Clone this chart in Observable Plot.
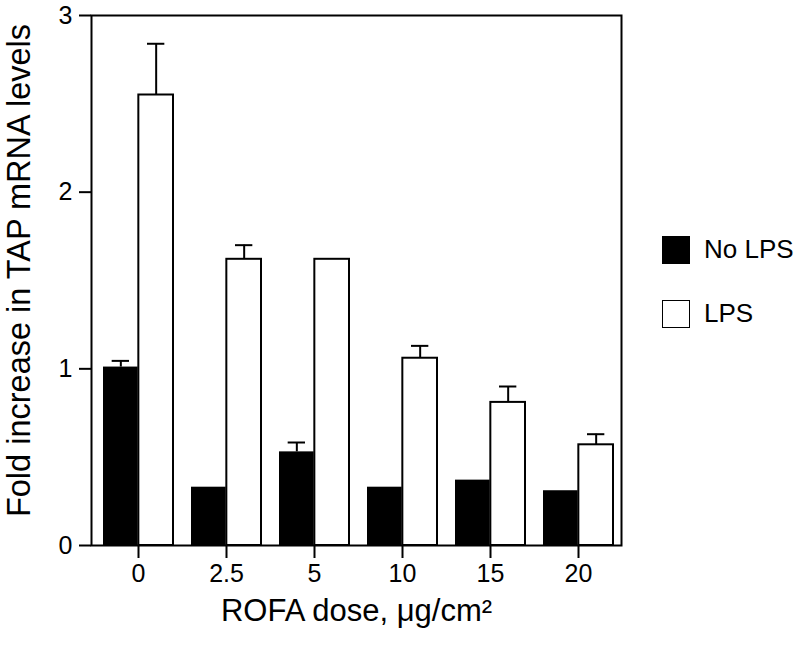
<!DOCTYPE html>
<html>
<head>
<meta charset="utf-8">
<script src="https://cdn.jsdelivr.net/npm/d3@7"></script>
<script src="https://cdn.jsdelivr.net/npm/@observablehq/plot@0.6"></script>
<style>
  html, body { margin: 0; padding: 0; background: #fff; }
  #wrap { position: relative; width: 800px; height: 647px; font-family: "Liberation Sans", Arial, Helvetica, sans-serif; color: #000; }
  .leg { position: absolute; left: 662px; display: flex; align-items: center; font-size: 26px; }
  .sw { width: 26px; height: 26px; border: 1.5px solid #000; margin-right: 14px; box-sizing: content-box; }
</style>
</head>
<body>
<div id="wrap"></div>
<script>
// ---- data ----
const doses = ["0", "2.5", "5", "10", "15", "20"];
const noLps = [1.01, 0.33, 0.53, 0.33, 0.37, 0.31];
const noLpsErr = [1.045, null, 0.583, null, null, null];
const lps = [2.55, 1.62, 1.62, 1.06, 0.81, 0.57];
const lpsErr = [2.84, 1.70, null, 1.13, 0.90, 0.63];
const yTicks = [0, 1, 2, 3];
const seriesNames = ["No LPS", "LPS"];
const yLabel = "Fold increase in TAP mRNA levels";
const xLabel = "ROFA dose, \u03bcg/cm\u00b2";

// ---- layout ----
const W = 800, H = 647, mL = 91, mR = 179, mT = 15, mB = 102;
const padIn = 0.2, padOut = 0.1;
const step = (W - mL - mR) / (doses.length - padIn + 2 * padOut);
const bw = step * (1 - padIn);
const half = bw / 2;
const capHalf = 9;

const noRows = doses.map((d, i) => ({dose: d, value: noLps[i], err: noLpsErr[i]}));
const lpsRows = doses.map((d, i) => ({dose: d, value: lps[i], err: lpsErr[i]}));
const noErrRows = noRows.filter(r => r.err != null);
const lpsErrRows = lpsRows.filter(r => r.err != null);

const chart = Plot.plot({
  width: W, height: H,
  marginLeft: mL, marginRight: mR, marginTop: mT, marginBottom: mB,
  style: {fontFamily: '"Liberation Sans", Arial, Helvetica, sans-serif', fontSize: "25px", color: "#000", background: "#fff", overflow: "visible"},
  x: {domain: doses, paddingInner: padIn, paddingOuter: padOut, align: 0.6},
  y: {domain: [0, 3]},
  marks: [
    // error stems
    Plot.ruleX(lpsErrRows, {x: "dose", y1: "value", y2: "err", dx: half / 2, stroke: "#000", strokeWidth: 2}),
    Plot.ruleX(noErrRows, {x: "dose", y1: "value", y2: "err", dx: -half / 2, stroke: "#000", strokeWidth: 2}),
    // caps
    Plot.tickY(lpsErrRows, {x: "dose", y: "err", insetLeft: 1.5 * half - capHalf, insetRight: half / 2 - capHalf, stroke: "#000", strokeWidth: 2}),
    Plot.tickY(noErrRows, {x: "dose", y: "err", insetLeft: half / 2 - capHalf, insetRight: 1.5 * half - capHalf, stroke: "#000", strokeWidth: 2}),
    // bars
    Plot.barY(lpsRows, {x: "dose", y: "value", insetLeft: half, fill: "#fff", stroke: "#000", strokeWidth: 2}),
    Plot.barY(noRows, {x: "dose", y: "value", insetRight: half, fill: "#000"}),
    Plot.frame({stroke: "#000", strokeWidth: 2}),
    Plot.axisY({ticks: yTicks, tickFormat: d3.format("d"), tickSize: 12, tickPadding: 7, label: null, fontSize: 25, stroke: "#000", strokeWidth: 2}),
    Plot.axisX({tickSize: 13, tickPadding: 6, label: null, fontSize: 25, stroke: "#000", strokeWidth: 2}),
    Plot.text([yLabel], {frameAnchor: "left", textAnchor: "middle", lineAnchor: "middle", rotate: -90, dx: -72, dy: -10, fontSize: 32.5, fill: "#000"}),
    Plot.text([xLabel], {frameAnchor: "bottom", textAnchor: "middle", lineAnchor: "middle", dy: 66, fontSize: 31, fill: "#000"})
  ]
});

const wrap = document.getElementById("wrap");
wrap.appendChild(chart);

// legend
const legTops = [234, 298];
const legFills = ["#000", "#fff"];
seriesNames.forEach((name, i) => {
  const item = document.createElement("div");
  item.className = "leg";
  item.style.top = legTops[i] + "px";
  const sw = document.createElement("div");
  sw.className = "sw";
  sw.style.background = legFills[i];
  const t = document.createElement("span");
  t.textContent = name;
  item.appendChild(sw);
  item.appendChild(t);
  wrap.appendChild(item);
});
</script>
</body>
</html>
